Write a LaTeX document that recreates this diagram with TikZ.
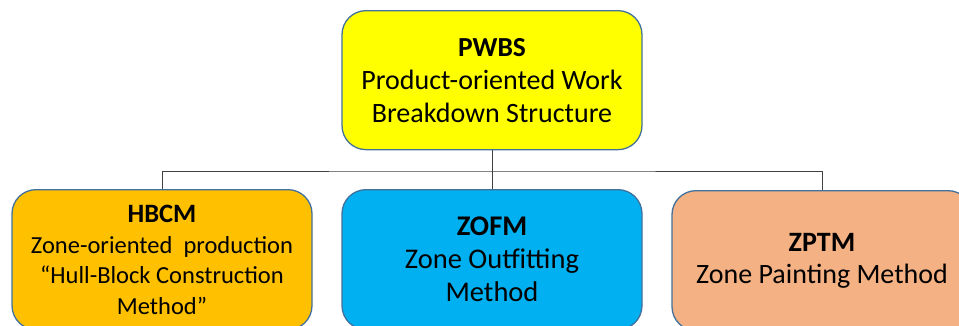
\documentclass[tikz,border=0pt]{standalone}
\usepackage{fontspec}
\setmainfont{Carlito}
\begin{document}
\begin{tikzpicture}[x=1pt,y=-1pt,
  box/.style={draw=boxline, line width=1.3pt, rounded corners=24pt,
    minimum width=300pt, align=center, inner sep=0pt},
  link/.style={draw=black!75, line width=0.9pt}]
\definecolor{boxline}{HTML}{41719C}
\definecolor{pyellow}{HTML}{FFFF00}
\definecolor{porange}{HTML}{FFC000}
\definecolor{pblue}{HTML}{00B0F0}
\definecolor{ppeach}{HTML}{F4B183}
\useasboundingbox (0,0) rectangle (959,325);
\clip (0,0) rectangle (959,325);
% root
\node[box, fill=pyellow, minimum height=139pt, anchor=north,
  font=\fontsize{28}{33}\selectfont] (pwbs) at (492,10)
  {\textbf{\fontsize{27.5}{33}\selectfont PWBS}\\Product-oriented Work\\Breakdown Structure};
% children
\node[box, fill=porange, minimum height=140pt, anchor=north,
  font=\fontsize{24.5}{30.5}\selectfont] (hbcm) at (162,189)
  {\textbf{\fontsize{26.5}{30.5}\selectfont HBCM}\\Zone-oriented\ \ production\\“Hull-Block Construction\\Method”};
\node[box, fill=pblue, minimum height=140pt, anchor=north,
  font=\fontsize{28.5}{33}\selectfont] (zofm) at (492,189)
  {\textbf{ZOFM}\\Zone Outfitting\\Method};
\node[box, fill=ppeach, minimum height=140pt, anchor=north,
  font=\fontsize{28}{32}\selectfont] (zptm) at (822,190)
  {\textbf{ZPTM}\\Zone Painting Method};
% tree connectors
\coordinate (bus) at (492,171);
\draw[link] (pwbs.south) -- (bus);
\draw[link] (hbcm.north) |- (bus) -| (zptm.north);
\draw[link] (bus) -- (zofm.north);
\end{tikzpicture}
\end{document}
